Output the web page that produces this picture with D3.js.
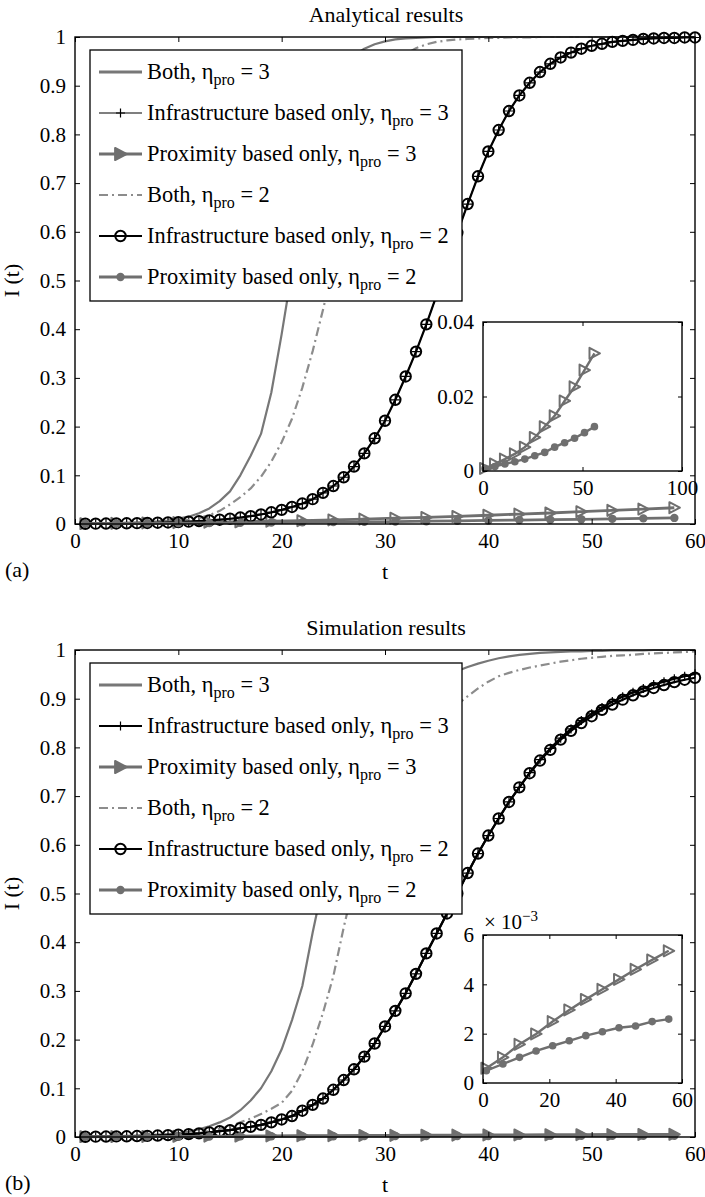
<!DOCTYPE html>
<html>
<head>
<meta charset="utf-8">
<script src="https://cdn.jsdelivr.net/npm/d3@7.9.0/dist/d3.min.js"></script>
<style>
  body { margin: 0; background: #fff; }
  text { font-family: "Liberation Serif", serif; fill: #000; }
</style>
</head>
<body>
<svg id="chart" width="705" height="1197" font-family="Liberation Serif, serif"></svg>
<script>
// time steps (x values) and marker sub-samplings
const tSteps = [1,2,3,4,5,6,7,8,9,10,11,12,13,14,15,16,17,18,19,20,21,22,23,24,25,26,27,28,29,30,
  31,32,33,34,35,36,37,38,39,40,41,42,43,44,45,46,47,48,49,50,51,52,53,54,55,56,57,58,59,60];
const proxT = [1,4,7,10,13,16,19,22,25,28,31,34,37,40,43,46,49,52,55,58];
const insetT = [1,6,11,16,21,26,31,36,41,46,51,56];

// (a) analytical results
const anaBoth3 = [0.001,0.0012,0.0015,0.0019,0.0024,0.003,0.0039,0.0052,0.0072,0.011,0.015,0.022,0.032,0.047,0.067,
  0.1,0.14,0.185,0.27,0.39,0.52,0.64,0.75,0.835,0.9,0.94,0.962,0.976,0.985,0.991,0.995,0.997,0.998,0.999,1,
  1,1,1,1,1,1,1,1,1,1,1,1,1,1,1,1,1,1,1,1,1,1,1,1,1];
const anaInfra3 = [0.0005,0.0007,0.0009,0.0011,0.0014,0.0017,0.0021,0.0026,0.0032,0.0039,0.0048,0.0059,0.0072,0.0088,0.0108,
  0.0132,0.016,0.0196,0.024,0.029,0.035,0.042,0.051,0.064,0.078,0.096,0.118,0.145,0.176,0.212,0.255,0.303,0.354,0.41,0.47,
  0.535,0.598,0.657,0.714,0.765,0.809,0.848,0.88,0.906,0.928,0.945,0.958,0.968,0.976,0.982,0.986,0.99,0.992,0.994,0.996,
  0.997,0.998,0.998,0.999,0.999];
const anaProx3 = [0.0007,0.0014,0.0021,0.0029,0.0037,0.0046,0.0057,0.0069,0.0084,0.0101,0.0119,0.0136,0.0156,0.018,
  0.0203,0.0226,0.0253,0.028,0.0307,0.0334];
const anaBoth2 = [0.0008,0.001,0.0012,0.0015,0.0019,0.0024,0.003,0.0038,0.005,0.0065,0.009,0.012,0.018,0.027,0.04,
  0.055,0.073,0.097,0.128,0.168,0.216,0.28,0.355,0.44,0.53,0.62,0.71,0.79,0.86,0.91,0.944,0.965,0.977,0.985,0.99,
  0.993,0.995,0.996,0.997,0.998,0.998,0.999,0.999,0.999,1,1,1,1,1,1,1,1,1,1,1,1,1,1,1,1];
const anaInfra2 = [0.0005,0.0007,0.0009,0.0011,0.0014,0.0017,0.0021,0.0026,0.0032,0.0039,0.0048,0.0059,0.0072,0.0088,0.0108,
  0.0132,0.016,0.0196,0.024,0.029,0.035,0.042,0.051,0.064,0.078,0.096,0.118,0.145,0.176,0.212,0.255,0.303,0.354,0.41,0.47,
  0.535,0.598,0.657,0.714,0.765,0.809,0.848,0.88,0.906,0.928,0.945,0.958,0.968,0.976,0.982,0.986,0.99,0.992,0.994,0.996,
  0.997,0.998,0.998,0.999,0.999];
const anaProx2 = [0.0007,0.001,0.0014,0.0018,0.0022,0.0025,0.003,0.0035,0.004,0.0045,0.005,0.0058,0.0066,0.0073,
  0.0081,0.0088,0.0097,0.0106,0.0115,0.0125];
const anaInsetProx3 = [0.0007,0.0019,0.0032,0.0046,0.0064,0.009,0.0119,0.0148,0.0188,0.0226,0.0271,0.0316];
const anaInsetProx2 = [0.0007,0.0012,0.0019,0.0025,0.0032,0.0041,0.005,0.0064,0.0076,0.0088,0.0103,0.0119];

// (b) simulation results
const simBoth3 = [0.001,0.0013,0.0016,0.002,0.0025,0.0031,0.0039,0.005,0.0062,0.0075,0.011,0.016,0.022,0.03,0.04,
  0.055,0.075,0.1,0.135,0.18,0.24,0.31,0.42,0.52,0.6,0.67,0.73,0.78,0.82,0.855,0.88,0.9,0.917,0.93,0.942,
  0.95,0.957,0.965,0.972,0.978,0.983,0.987,0.99,0.992,0.994,0.995,0.996,0.997,0.997,0.998,0.998,0.999,0.999,0.999,0.999,
  1,1,1,1,1];
const simInfra3 = [0.0005,0.0007,0.0009,0.0012,0.0015,0.0019,0.0024,0.003,0.0038,0.0048,0.006,0.0075,0.0095,0.012,0.014,
  0.018,0.021,0.025,0.03,0.036,0.043,0.054,0.066,0.079,0.097,0.117,0.139,0.165,0.192,0.227,0.259,0.295,0.335,0.377,0.418,
  0.459,0.5,0.542,0.582,0.619,0.654,0.688,0.718,0.748,0.775,0.798,0.819,0.838,0.855,0.869,0.882,0.894,0.904,0.913,0.921,
  0.929,0.935,0.941,0.946,0.951];
const simProx3 = [0.0006,0.00085,0.00115,0.00145,0.00175,0.002,0.0023,0.0026,0.0029,0.00315,0.0034,0.00365,0.0039,
  0.00415,0.00435,0.0046,0.00485,0.0051,0.0053,0.0055];
const simBoth2 = [0.0007,0.0009,0.0011,0.0014,0.0017,0.0021,0.0026,0.0032,0.0038,0.0045,0.006,0.008,0.012,0.017,0.022,
  0.03,0.038,0.047,0.058,0.07,0.095,0.135,0.19,0.255,0.33,0.43,0.52,0.585,0.645,0.7,0.745,0.785,0.815,0.84,0.86,
  0.876,0.888,0.905,0.921,0.935,0.946,0.953,0.959,0.964,0.968,0.972,0.976,0.979,0.982,0.984,0.986,0.988,0.989,0.99,0.992,
  0.993,0.994,0.995,0.996,0.997];
const simInfra2 = [0.0005,0.0007,0.0009,0.0012,0.0015,0.0019,0.0024,0.003,0.0038,0.0048,0.006,0.0075,0.0095,0.012,0.014,
  0.018,0.021,0.025,0.03,0.036,0.043,0.054,0.066,0.079,0.097,0.117,0.139,0.165,0.192,0.227,0.259,0.295,0.335,0.377,0.418,
  0.459,0.5,0.542,0.582,0.619,0.654,0.688,0.718,0.747,0.773,0.795,0.816,0.834,0.85,0.864,0.877,0.888,0.898,0.907,0.915,
  0.922,0.928,0.934,0.939,0.943];
const simProx2 = [0.0005,0.00065,0.00085,0.001,0.00115,0.0013,0.00143,0.00155,0.00168,0.0018,0.00192,0.00202,0.00212,
  0.0022,0.00227,0.00233,0.00242,0.0025,0.00257,0.00262];
// inset values in units of 10^-3
const simInsetProx3 = [0.6,1.04,1.57,1.99,2.49,2.96,3.39,3.8,4.2,4.61,4.99,5.36];
const simInsetProx2 = [0.5,0.77,1.04,1.3,1.51,1.71,1.92,2.08,2.24,2.31,2.49,2.59];

// ticks and labels
const xTicksMain = [0,10,20,30,40,50,60];
const yTicksMain = [0,0.1,0.2,0.3,0.4,0.5,0.6,0.7,0.8,0.9,1];
const legendNames = ['Both', 'Infrastructure based only', 'Proximity based only', 'Both', 'Infrastructure based only', 'Proximity based only'];
const legendEta = [3, 3, 3, 2, 2, 2];

const GRAY = '#6f6f6f';
const svg = d3.select('#chart');
const FONT = 21;

function marker(sel, type, x, y, opt) {
  if (type === 'circle') {
    sel.append('circle').attr('cx', x).attr('cy', y).attr('r', 5.2)
      .attr('fill', 'none').attr('stroke', '#000').attr('stroke-width', 2);
  } else if (type === 'plus') {
    sel.append('path').attr('d', `M${x - 4.5},${y}H${x + 4.5}M${x},${y - 4.5}V${y + 4.5}`)
      .attr('stroke', '#000').attr('stroke-width', 1.2);
  } else if (type === 'tri') {
    const s = opt.size || 5;
    sel.append('path').attr('d', `M${x - s * 0.9},${y - s}L${x + s},${y}L${x - s * 0.9},${y + s}Z`)
      .attr('fill', opt.fill).attr('stroke', GRAY).attr('stroke-width', 2).attr('stroke-linejoin', 'round');
  } else if (type === 'dot') {
    sel.append('circle').attr('cx', x).attr('cy', y).attr('r', opt.r || 4).attr('fill', GRAY);
  }
}

function styleAxis(g) {
  g.select('.domain').remove();
  g.attr('font-family', 'Liberation Serif, serif').attr('font-size', FONT);
  g.selectAll('line').attr('stroke', '#000');
}

function drawBox(g, x, y, xTicks, yTicks, xFmt, yFmt, tick) {
  const [x0, x1] = x.range(), [y0, y1] = y.range();
  g.append('g').attr('transform', `translate(0,${y0})`)
    .call(d3.axisBottom(x).tickValues(xTicks).tickSize(-tick).tickPadding(9).tickFormat(xFmt)).call(styleAxis);
  g.append('g').attr('transform', `translate(0,${y1})`)
    .call(d3.axisTop(x).tickValues(xTicks).tickSize(-tick).tickFormat('')).call(styleAxis);
  g.append('g').attr('transform', `translate(${x0},0)`)
    .call(d3.axisLeft(y).tickValues(yTicks).tickSize(-tick).tickPadding(9).tickFormat(yFmt)).call(styleAxis);
  g.append('g').attr('transform', `translate(${x1},0)`)
    .call(d3.axisRight(y).tickValues(yTicks).tickSize(-tick).tickFormat('')).call(styleAxis);
  g.append('rect').attr('x', x0).attr('y', y1).attr('width', x1 - x0).attr('height', y0 - y1)
    .attr('fill', 'none').attr('stroke', '#000').attr('stroke-width', 1.4);
}

function drawPanel(p) {
  const x = d3.scaleLinear().domain([0, 60]).range([75, 695]);
  const y = d3.scaleLinear().domain([0, 1]).range([p.bottom, p.top]);
  const g = svg.append('g');
  const clipId = 'clip' + p.tag.replace(/\W/g, '');
  svg.append('clipPath').attr('id', clipId).append('rect')
    .attr('x', 75).attr('y', p.top - 6).attr('width', 628).attr('height', p.bottom - p.top + 12);
  const plot = g.append('g').attr('clip-path', `url(#${clipId})`);
  const line = d3.line().x(d => x(d[0])).y(d => y(d[1]));

  p.series.forEach(s => {
    const pts = s.t.map((t, i) => [t, s.v[i]]);
    plot.append('path').attr('d', line(pts)).attr('fill', 'none')
      .attr('stroke', s.stroke).attr('stroke-width', s.width)
      .attr('stroke-dasharray', s.dash || null).attr('stroke-linejoin', 'round');
    if (s.marker) pts.forEach(d => marker(plot, s.marker, x(d[0]), y(d[1]), s));
  });

  drawBox(g, x, y, xTicksMain, yTicksMain, d => String(d), d => String(d), 5);

  g.append('text').attr('x', 386).attr('y', p.top - 15).attr('text-anchor', 'middle')
    .attr('font-size', 22).text(p.title);
  g.append('text').attr('x', 385).attr('y', p.bottom + 55).attr('text-anchor', 'middle')
    .attr('font-size', 22).text('t');
  g.append('text').attr('x', 5).attr('y', p.bottom + 53).attr('font-size', 22).text(p.tag);
  g.append('text').attr('transform', `translate(19,${(p.top + p.bottom) / 2}) rotate(-90)`)
    .attr('text-anchor', 'middle').attr('font-size', 22).text('I (t)');

  // legend
  const lg = g.append('g').attr('transform', `translate(90,${p.top + 13})`);
  lg.append('rect').attr('width', 372).attr('height', 251).attr('fill', '#fff')
    .attr('stroke', '#000').attr('stroke-width', 1.3);
  p.series.forEach((s, i) => {
    const cy = 22 + i * 41;
    lg.append('line').attr('x1', 9).attr('x2', 52).attr('y1', cy).attr('y2', cy)
      .attr('stroke', s.stroke).attr('stroke-width', s.legendWidth || s.width)
      .attr('stroke-dasharray', s.dash || null);
    if (s.marker) marker(lg, s.marker, 30.5, cy, Object.assign({}, s, { fill: GRAY, size: 6 }));
    const tx = lg.append('text').attr('x', 57).attr('y', cy + 7).attr('font-size', 22.4);
    tx.append('tspan').text(legendNames[i] + ', \u03b7');
    tx.append('tspan').attr('font-size', 16).attr('dy', 6).text('pro');
    tx.append('tspan').attr('dy', -6).text(' = ' + legendEta[i]);
  });

  // inset
  const ix = d3.scaleLinear().domain(p.inset.xDomain).range([483, 682]);
  const iy = d3.scaleLinear().domain(p.inset.yDomain).range([p.inset.bottom, p.inset.top]);
  const ig = g.append('g');
  ig.append('rect').attr('x', 483).attr('y', p.inset.top).attr('width', 199)
    .attr('height', p.inset.bottom - p.inset.top).attr('fill', '#fff');
  const iline = d3.line().x(d => ix(d[0])).y(d => iy(d[1]));
  p.inset.series.forEach(s => {
    const pts = insetT.map((t, i) => [t, s.v[i]]);
    ig.append('path').attr('d', iline(pts)).attr('fill', 'none')
      .attr('stroke', GRAY).attr('stroke-width', 2.4);
    pts.forEach(d => marker(ig, s.marker, ix(d[0]), iy(d[1]), { fill: 'none', size: 5.5, r: 3.8 }));
  });
  drawBox(ig, ix, iy, p.inset.xTicks, p.inset.yTicks, d => String(d), d => String(d), 4);
  if (p.inset.exponent) {
    const et = ig.append('text').attr('x', 484).attr('y', p.inset.top - 6).attr('font-size', 21);
    et.append('tspan').text('\u00d7 10');
    et.append('tspan').attr('font-size', 15).attr('dy', -8).text('\u22123');
  }
}

function seriesSet(both3, infra3, prox3, both2, infra2, prox2, infra3Width, proxFill) {
  return [
    { t: tSteps, v: both3, stroke: '#777', width: 2.2, legendWidth: 3.2 },
    { t: tSteps, v: infra3, stroke: '#000', width: infra3Width, marker: 'plus' },
    { t: proxT, v: prox3, stroke: GRAY, width: 2.8, marker: 'tri', fill: proxFill, size: 5.5 },
    { t: tSteps, v: both2, stroke: '#8c8c8c', width: 2.2, dash: '9,4,2,4' },
    { t: tSteps, v: infra2, stroke: '#000', width: 2.2, marker: 'circle' },
    { t: proxT, v: prox2, stroke: GRAY, width: 2.8, marker: 'dot', r: 4.2 }
  ];
}

drawPanel({
  title: 'Analytical results', tag: '(a)', top: 37, bottom: 524,
  series: seriesSet(anaBoth3, anaInfra3, anaProx3, anaBoth2, anaInfra2, anaProx2, 1.1, 'none'),
  inset: {
    top: 322, bottom: 471, xDomain: [0, 100], yDomain: [0, 0.04],
    xTicks: [0, 50, 100], yTicks: [0, 0.02, 0.04],
    series: [{ v: anaInsetProx3, marker: 'tri' }, { v: anaInsetProx2, marker: 'dot' }]
  }
});

drawPanel({
  title: 'Simulation results', tag: '(b)', top: 650, bottom: 1137,
  series: seriesSet(simBoth3, simInfra3, simProx3, simBoth2, simInfra2, simProx2, 2.2, GRAY),
  inset: {
    top: 935, bottom: 1083, xDomain: [0, 60], yDomain: [0, 6],
    xTicks: [0, 20, 40, 60], yTicks: [0, 2, 4, 6], exponent: true,
    series: [{ v: simInsetProx3, marker: 'tri' }, { v: simInsetProx2, marker: 'dot' }]
  }
});
</script>
</body>
</html>
